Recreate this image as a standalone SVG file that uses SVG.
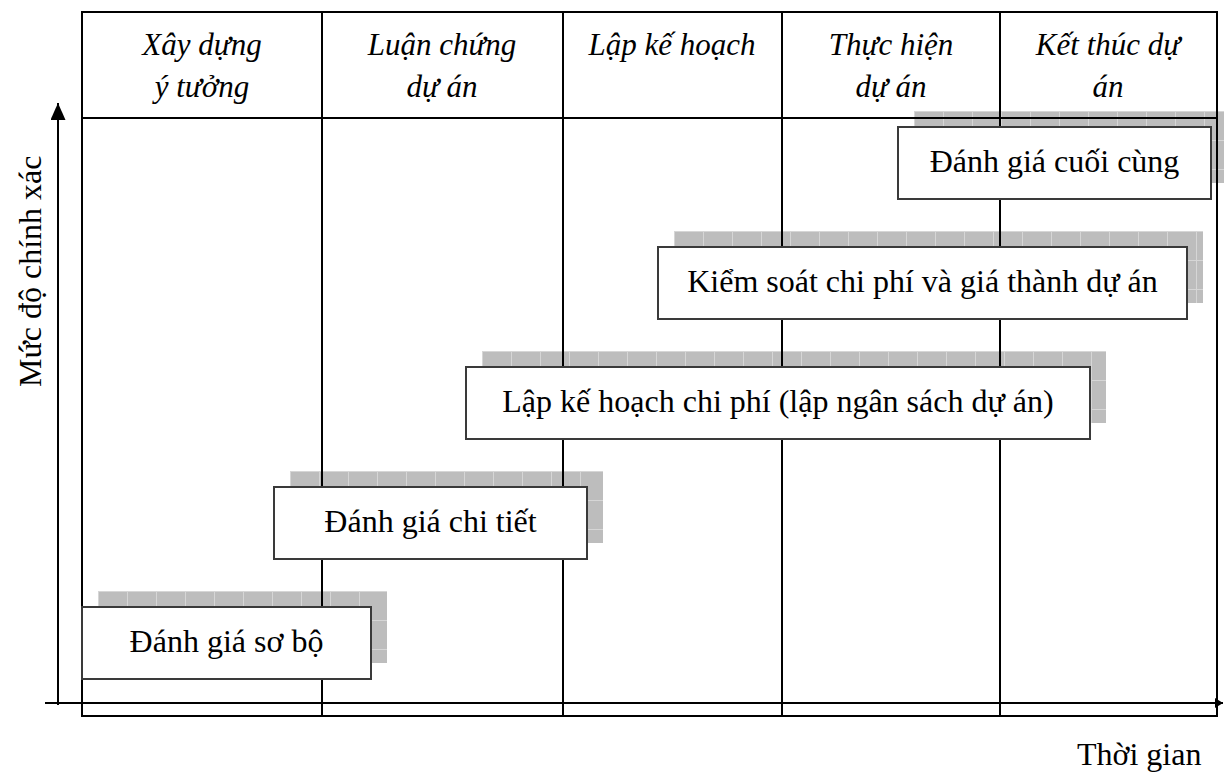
<svg xmlns="http://www.w3.org/2000/svg" width="1224" height="772" viewBox="0 0 1224 772">
  <style>
    .grid { stroke: #000; stroke-width: 2; fill: none; }
    .axis { stroke: #000; stroke-width: 2; fill: none; }
    .box { fill: #fff; stroke: #3a3a3a; stroke-width: 2; }
    .shadow { fill: url(#shadowGrid); }
    .phase { font-family: "Liberation Serif", "Times New Roman", serif; font-style: italic; font-size: 31px; fill: #000; text-anchor: middle; }
    .label { font-family: "Liberation Serif", "Times New Roman", serif; font-size: 32px; fill: #000; text-anchor: middle; }
    .axislabel { font-family: "Liberation Serif", "Times New Roman", serif; font-size: 32px; fill: #000; }
  </style>
  <defs>
    <pattern id="shadowGrid" patternUnits="userSpaceOnUse" width="29" height="29">
      <rect width="29" height="29" fill="#bdbdbd"/>
      <path d="M0 0.5 H29 M0.5 0 V29" stroke="#d6d6d6" stroke-width="1"/>
    </pattern>
    <marker id="arrow" viewBox="0 0 10 10" refX="10" refY="5" markerWidth="8" markerHeight="10" markerUnits="userSpaceOnUse" orient="auto" preserveAspectRatio="none">
      <path d="M0 0 L10 5 L0 10 Z" fill="#000"/>
    </marker>
    <marker id="arrowUp" viewBox="0 0 10 10" refX="10" refY="5" markerWidth="17" markerHeight="15" markerUnits="userSpaceOnUse" orient="auto" preserveAspectRatio="none">
      <path d="M0 0 L10 5 L0 10 Z" fill="#000"/>
    </marker>
  </defs>

  <!-- drop shadows of the estimate boxes -->
  <g id="shadows">
    <g transform="translate(98,591)"><rect class="shadow" width="289" height="72"/></g>
    <g transform="translate(290,471)"><rect class="shadow" width="313" height="72"/></g>
    <g transform="translate(482,351)"><rect class="shadow" width="624" height="72"/></g>
    <g transform="translate(674,231)"><rect class="shadow" width="529" height="72"/></g>
    <g transform="translate(914,111)"><rect class="shadow" width="314" height="72"/></g>
  </g>

  <!-- phase table -->
  <g id="table">
    <rect class="grid" x="82" y="12" width="1135" height="704"/>
    <line class="grid" x1="82" y1="118" x2="1217" y2="118"/>
    <line class="grid" x1="322" y1="12" x2="322" y2="716"/>
    <line class="grid" x1="563" y1="12" x2="563" y2="716"/>
    <line class="grid" x1="782" y1="12" x2="782" y2="716"/>
    <line class="grid" x1="1000" y1="12" x2="1000" y2="716"/>
  </g>

  <g id="phases">
    <text class="phase" x="202" y="55">Xây dựng</text>
    <text class="phase" x="202" y="97">ý tưởng</text>
    <text class="phase" x="442" y="55">Luận chứng</text>
    <text class="phase" x="442" y="97">dự án</text>
    <text class="phase" x="672" y="55">Lập kế hoạch</text>
    <text class="phase" x="891" y="55">Thực hiện</text>
    <text class="phase" x="891" y="97">dự án</text>
    <text class="phase" x="1108" y="55">Kết thúc dự</text>
    <text class="phase" x="1108" y="97">án</text>
  </g>

  <!-- axes -->
  <g id="connectors">
    <line class="axis" x1="45" y1="703" x2="1223" y2="703" marker-end="url(#arrow)"/>
    <line class="axis" x1="58" y1="705" x2="58" y2="103" marker-end="url(#arrowUp)"/>
  </g>

  <g id="axis-labels">
    <text class="axislabel" x="1077" y="765">Thời gian</text>
    <text class="axislabel" transform="translate(41,387) rotate(-90)">Mức độ chính xác</text>
  </g>

  <!-- estimate stages -->
  <g id="stage-preliminary">
    <rect class="box" x="82" y="607" width="289" height="72"/>
    <text class="label" x="226.5" y="652">Đánh giá sơ bộ</text>
  </g>
  <g id="stage-detailed">
    <rect class="box" x="274" y="487" width="313" height="72"/>
    <text class="label" x="430.5" y="532">Đánh giá chi tiết</text>
  </g>
  <g id="stage-budget">
    <rect class="box" x="466" y="367" width="624" height="72"/>
    <text class="label" x="778" y="412">Lập kế hoạch chi phí (lập ngân sách dự án)</text>
  </g>
  <g id="stage-control">
    <rect class="box" x="658" y="247" width="529" height="72"/>
    <text class="label" x="922.5" y="292">Kiểm soát chi phí và giá thành dự án</text>
  </g>
  <g id="stage-final">
    <rect class="box" x="898" y="127" width="313" height="72"/>
    <text class="label" x="1054.5" y="172">Đánh giá cuối cùng</text>
  </g>
</svg>
